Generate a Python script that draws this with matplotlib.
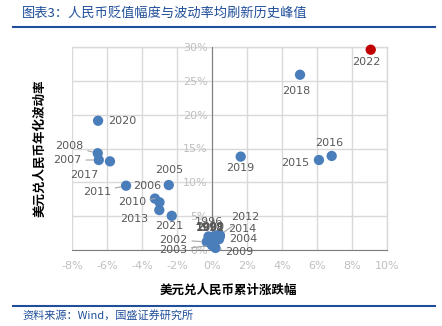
import numpy as np
import matplotlib
matplotlib.use('Agg')
import matplotlib.pyplot as plt
from matplotlib.lines import Line2D

plt.rcParams['font.family'] = ['Noto Sans CJK SC', 'DejaVu Sans']

# Data: cumulative USD/CNY change (%) and annualised volatility (%)
years = ['1996', '1997', '1998', '1999', '2000', '2001', '2002', '2003', '2004',
         '2005', '2006', '2007', '2008', '2009', '2010', '2011', '2012', '2013',
         '2014', '2015', '2016', '2017', '2018', '2019', '2020', '2021', '2022']
change = [-0.2, 0.0, 0.2, 0.35, 0.45, 0.1, -0.3, 0.0, 0.4,
          -2.47, -3.0, -6.47, -6.53, 0.2, -3.26, -4.91, 0.45, -3.01,
          0.3, 6.11, 6.84, -5.83, 5.03, 1.64, -6.51, -2.3, 9.07]
vol = [2.0, 1.8, 2.1, 2.2, 2.0, 1.4, 1.2, 0.7, 1.6,
       9.6, 7.05, 13.3, 14.3, 0.3, 7.6, 9.5, 2.2, 5.9,
       1.9, 13.3, 13.9, 13.1, 25.9, 13.8, 19.1, 5.05, 29.6]
highlight = '2022'

x_ticks = [-8, -6, -4, -2, 0, 2, 4, 6, 8, 10]
y_ticks = [0, 5, 10, 15, 20, 25, 30]

# label placement in pixels: (dx, dy, ha, leader line)
label_pos = {
    '1996': (0, 14, 'center', False), '1997': (-2, 10, 'center', False),
    '1998': (-5, 8, 'center', False), '1999': (-8, 8, 'center', False),
    '2000': (-10, 9, 'center', False), '2001': (-4, 13, 'center', False),
    '2002': (-19, 2, 'right', True), '2003': (-25, -5, 'right', True),
    '2004': (10, 0, 'left', False), '2005': (0, 15, 'center', False),
    '2006': (1.5, 16, 'right', False), '2007': (-17, 0, 'right', True),
    '2008': (-14, 7, 'right', True), '2009': (10, -4, 'left', True),
    '2010': (-9, -3, 'right', True), '2011': (-15, -6, 'right', True),
    '2012': (11, 18, 'left', True), '2013': (-25, -9, 'center', False),
    '2014': (11, 8, 'left', False), '2015': (-10, -3, 'right', False),
    '2016': (-3, 13, 'center', False), '2017': (-26, -14, 'center', False),
    '2018': (-4, -16, 'center', False), '2019': (0, -11, 'center', False),
    '2020': (10, 0, 'left', False), '2021': (-2, -10, 'center', False),
    '2022': (-4, -12, 'center', False),
}

blue = '#4A7EBB'
red = '#C00000'
title_blue = '#1F4E9A'
grey_txt = '#595959'

fig = plt.figure(figsize=(4.42, 3.26), dpi=100)
ax = fig.add_axes([72 / 442, 1 - 250 / 326, 315 / 442, 203 / 326])

# move the y axis to x=0 first (this resets tick styling)
for s in ['top', 'right']:
    ax.spines[s].set_visible(False)
ax.spines['left'].set_position(('data', 0))
ax.spines['left'].set_color('#7F7F7F')
ax.spines['bottom'].set_color('#7F7F7F')

ax.set_xlim(-8, 10)
ax.set_ylim(0, 30)
ax.set_xticks(x_ticks)
ax.set_yticks(y_ticks)
ax.set_xticklabels([f'{t}%' for t in x_ticks], fontsize=8, color='#BFBFBF',
                   family='DejaVu Sans')
ax.set_yticklabels([f'{t}%' for t in y_ticks], fontsize=8, color='#BFBFBF',
                   family='DejaVu Sans')
ax.tick_params(length=0, pad=3)
ax.tick_params(axis='x', pad=8)
ax.grid(True, color='#D9D9D9', lw=1)
ax.set_axisbelow(True)
ax.plot([10, 10], [0, 30], color='#D9D9D9', lw=1, zorder=0, clip_on=False)
ax.plot([-8, 10], [30, 30], color='#D9D9D9', lw=1, zorder=0, clip_on=False)

colors = [red if y == highlight else blue for y in years]
ax.scatter(change, vol, s=55, c=colors, zorder=3, linewidths=0, clip_on=False)

for yr, cx, cy in zip(years, change, vol):
    dx, dy, ha, leader = label_pos[yr]
    ax.annotate(yr, (cx, cy), xytext=(dx, dy), textcoords='offset pixels',
                ha=ha, va='center', fontsize=8, color=grey_txt,
                family='DejaVu Sans', zorder=4,
                arrowprops=dict(arrowstyle='-', color='#A6A6A6', lw=0.8,
                                shrinkA=1, shrinkB=4) if leader else None)

ax.set_xlabel('美元兑人民币累计涨跌幅', fontsize=9, fontweight='bold')
ax.set_ylabel('美元兑人民币年化波动率', fontsize=9, fontweight='bold')
ax.yaxis.set_label_coords((46 - 72) / 315, 0.5)
ax.xaxis.set_label_coords((228 - 72) / 315, (250 - 284) / 203)

# header / footer
fig.text(22 / 442, 1 - 13 / 326, '图表3：人民币贬值幅度与波动率均刷新历史峰值',
         fontsize=9.5, color=title_blue, style='italic', va='center')
fig.add_artist(Line2D([13 / 442, 435 / 442], [1 - 26.5 / 326] * 2,
                      color=title_blue, lw=1.5))
fig.add_artist(Line2D([13 / 442, 435 / 442], [1 - 305.5 / 326] * 2,
                      color=title_blue, lw=1.5))
fig.text(22 / 442, 1 - 315 / 326, '资料来源：Wind，国盛证券研究所',
         fontsize=8, color=title_blue, style='italic', va='center')

fig.savefig('out.png', dpi=100)
